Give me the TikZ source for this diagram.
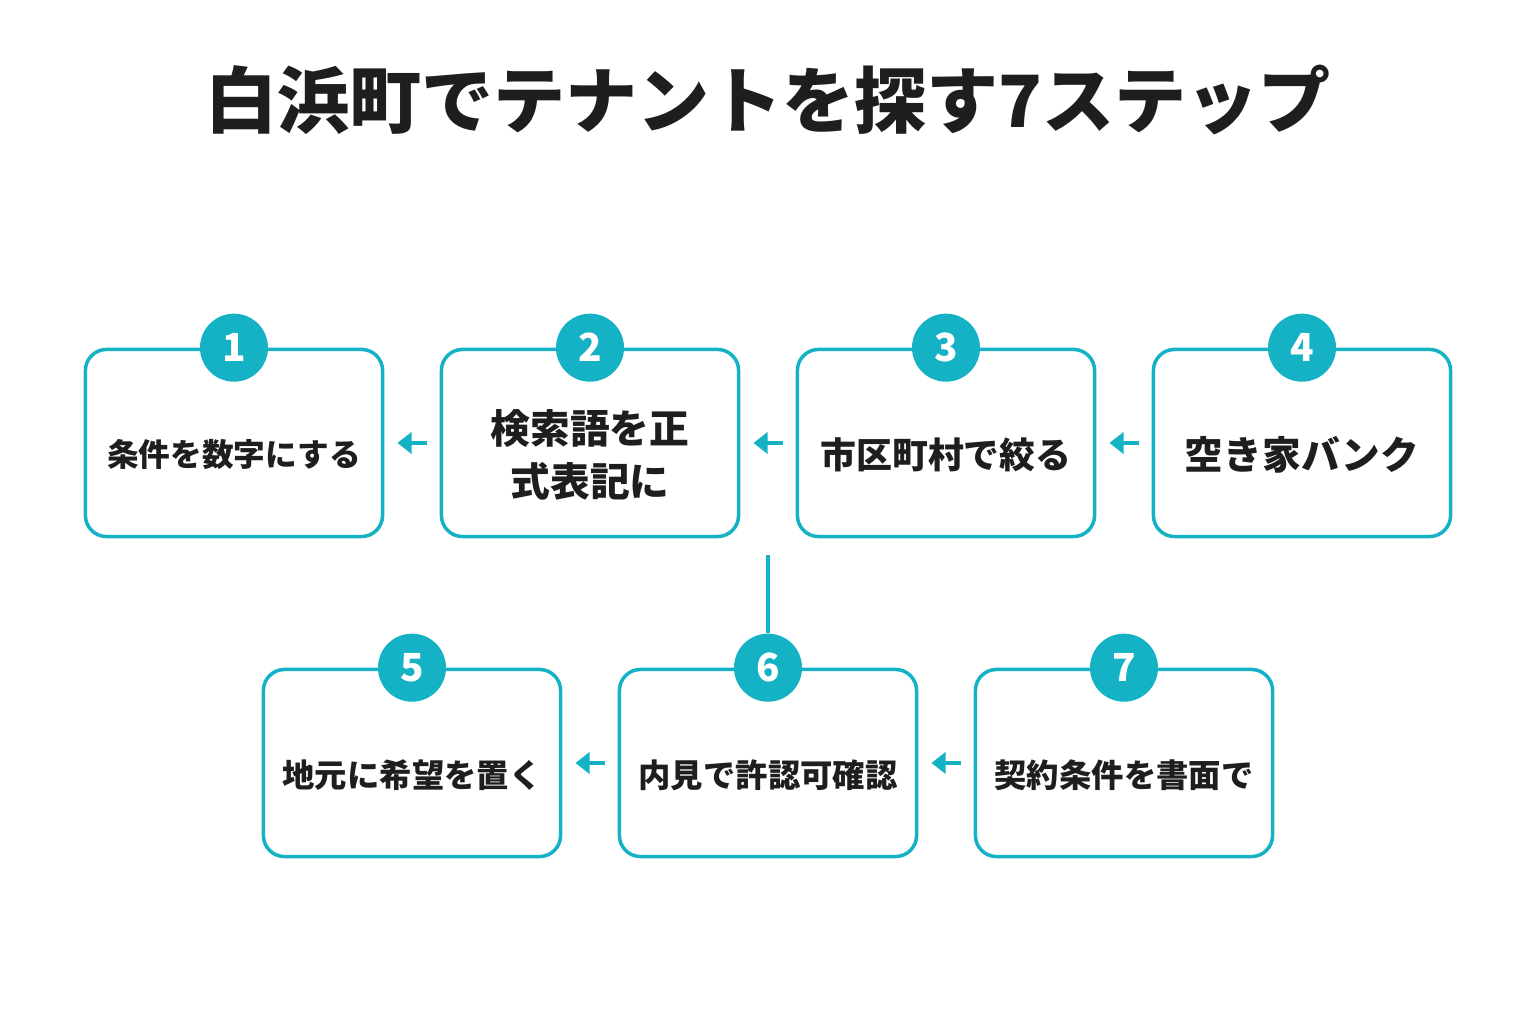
\documentclass[tikz,border=0pt]{standalone}
\usepackage{fontspec}
\setmainfont{Noto Sans CJK JP}
\usepackage{tikz}
\usetikzlibrary{arrows.meta,positioning}
\definecolor{turquesa}{RGB}{20,178,196}
\definecolor{tinta}{RGB}{30,30,30}
\tikzstyle{paso}  =[draw=turquesa, line width=1pt, rounded corners=6pt,
                    minimum width=2.97cm, minimum height=1.87cm]
\tikzstyle{texto} =[align=center, text=tinta, inner sep=1pt]
\tikzstyle{numero}=[circle, fill=turquesa, minimum size=0.68cm,
                    inner sep=0pt, text=white, font=\bfseries\fontsize{11}{11}\selectfont]
\tikzstyle{flecha}=[draw=turquesa, line width=1pt,
                    -{Triangle[length=4pt,width=6pt]}]

\begin{document}
\begin{tikzpicture}[x=0.01cm,y=0.01cm]
    \useasboundingbox (0,0) rectangle (1536,1024);
    \node (titulo) at (768,924) [text=tinta,font=\bfseries\fontsize{20.5}{21}\selectfont] {白浜町でテナントを探す7ステップ};

    % primera fila
    \node (p1) at (234,581) [paso] {};
    \node (p2) at (590,581) [paso] {};
    \node (p3) at (946,581) [paso] {};
    \node (p4) at (1302,581) [paso] {};
    % segunda fila
    \node (p5) at (412,261) [paso] {};
    \node (p6) at (768,261) [paso] {};
    \node (p7) at (1124,261) [paso] {};

    \foreach \i/\t/\s in {1/{条件を数字にする}/9, 2/{検索語を正\\式表記に}/11.3,
        3/{市区町村で絞る}/10.2, 4/{空き家バンク}/11, 5/{地元に希望を置く}/9.2,
        6/{内見で許認可確認}/9.2, 7/{契約条件を書面で}/9.2}
        \node (t\i) at ([yshift=-0.12cm]p\i.center) [texto,font=\bfseries\fontsize{\s}{15}\selectfont] {\t};

    \foreach \i in {1,...,7}
        \node (n\i) at (p\i.north) [numero] {\i};

    \foreach \i/\j in {1/2,2/3,3/4,5/6,6/7}
        \draw [flecha] ([xshift=12]p\i.east) to ([xshift=-12]p\j.west);

    \coordinate (enlace) at (768,469);
    \draw [turquesa,line width=1pt] (enlace) to (n6);
\end{tikzpicture}
\end{document}
